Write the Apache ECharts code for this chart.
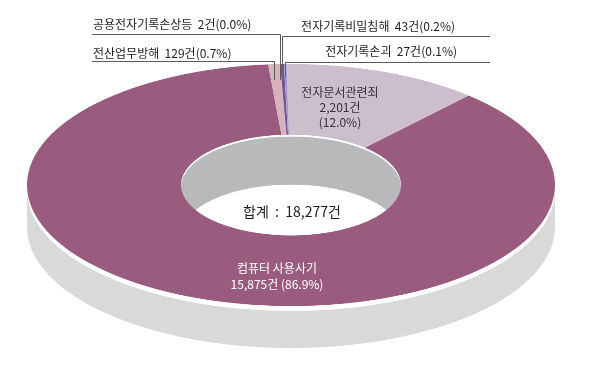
<!DOCTYPE html>
<html><head><meta charset="utf-8">
<script src="https://cdn.jsdelivr.net/npm/echarts@6/dist/echarts.min.js"></script>
<style>
html,body{margin:0;padding:0;background:#fff;overflow:hidden;width:590px;height:369px;}
#pie{position:absolute;left:0;top:0;width:590px;height:800px;transform-origin:0 0;}
#txt{position:absolute;left:0;top:0;width:590px;height:369px;}
</style></head>
<body>
<div id="pie"></div>
<div id="txt"></div>
<script>
// ---- data ----
const categories = ['전자문서관련죄', '컴퓨터 사용사기', '전산업무방해', '공용전자기록손상등', '전자기록비밀침해', '전자기록손괴'];
const counts = [2201, 15875, 129, 2, 43, 27];
const percents = ['12.0', '86.9', '0.7', '0.0', '0.2', '0.1'];
const totalLabel = '합계';
const unit = '건';

// ---- style / layout ----
const colors = ['#cdbecd', '#9a5c7e', '#d9b1bc', '#ead9de', '#6f5897', '#a995c6'];
const FONT = '"Noto Sans CJK KR", "Noto Sans", sans-serif';
const CX = 291, CYS = 185, RX = 264, RY = 121, RI = 110;
const S = RY / RX;
const CY = CYS / S;
const DEPTH = 42, GAP = 5, FLOOR = 50, RIM = 2;
const START = 91; // echarts startAngle
document.getElementById('pie').style.transform = 'scaleY(' + S + ')';

const fmt = n => n.toLocaleString('en-US');
const total = counts.reduce((a, b) => a + b, 0);

// ---- pie (squashed into an ellipse) ----
const pie = echarts.init(document.getElementById('pie'), null, {renderer: 'canvas'});
pie.setOption({
  animation: false,
  graphic: {elements: [
    {type: 'circle', silent: true, z: 1, shape: {cx: CX, cy: CY + DEPTH / S, r: RX}, style: {fill: '#d9d9d9'}},
    {type: 'rect', silent: true, z: 1, shape: {x: CX - RX, y: CY, width: 2 * RX, height: DEPTH / S}, style: {fill: '#d9d9d9'}},
    {type: 'circle', silent: true, z: 2, shape: {cx: CX, cy: CY + GAP / S, r: RX}, style: {fill: '#ffffff'}},
    {type: 'circle', silent: true, z: 3, shape: {cx: CX, cy: CY, r: RI}, style: {fill: '#ffffff'}},
    {type: 'circle', silent: true, z: 4, shape: {cx: CX, cy: CY + RIM / S, r: RI}, style: {fill: '#b8b9ba'}},
    {type: 'circle', silent: true, z: 5, shape: {cx: CX, cy: CY + FLOOR / S, r: RI}, style: {fill: '#ffffff'}}
  ]},
  series: [{
    type: 'pie', z: 10, silent: true,
    center: [CX, CY], radius: [RI, RX],
    startAngle: START, clockwise: true, minAngle: 0,
    label: {show: false}, labelLine: {show: false},
    itemStyle: {borderWidth: 0},
    data: categories.map((c, i) => ({name: c, value: counts[i], itemStyle: {color: colors[i]}}))
  }]
});

// ---- text overlay ----
let acc = 90 - START;
const mids = counts.map(v => { const a = v / total * 360; const m = acc + a / 2; acc += a; return m; });
const topPt = i => {
  const t = mids[i] * Math.PI / 180;
  return [CX + RX * Math.sin(t), CYS - RY * Math.cos(t)];
};
const callout = i => categories[i] + '  ' + fmt(counts[i]) + unit + '(' + percents[i] + '%)';
const LC = '#5a5a5a';
function leader(i, fromX, yLine, drop) {
  const p = topPt(i);
  const x = Math.round(p[0]) + 0.5;
  return {type: 'polyline', silent: true, shape: {points: [[fromX, yLine + 0.5], [x, yLine + 0.5], [x, p[1] + drop]]},
    style: {stroke: LC, lineWidth: 1, fill: null}};
}
const txtStyle = (text, x, y, align, color, size, lh) => ({type: 'text', silent: true,
  style: {text: text, x: x, y: y, align: align, verticalAlign: 'middle', fill: color, fontSize: size, fontFamily: FONT, lineHeight: lh || size + 3}});

const txt = echarts.init(document.getElementById('txt'), null, {renderer: 'svg'});
txt.setOption({
  animation: false,
  graphic: {elements: [
    txtStyle(callout(3), 93, 23, 'left', '#222', 12),
    leader(3, 92, 34, 16),
    txtStyle(callout(2), 93, 52, 'left', '#222', 12),
    leader(2, 92, 61, 16),
    txtStyle(callout(4), 455, 25, 'right', '#222', 12),
    leader(4, 490, 36, 5),
    txtStyle(callout(5), 457, 50, 'right', '#222', 12),
    leader(5, 490, 62, 13),
    txtStyle(categories[0] + '\n' + fmt(counts[0]) + unit + '\n(' + percents[0] + '%)', 340, 106, 'center', '#333', 12, 15),
    txtStyle(categories[1] + '\n' + fmt(counts[1]) + unit + ' (' + percents[1] + '%)', 277, 275, 'center', '#ffffff', 12, 16),
    txtStyle(totalLabel + '  :  ' + fmt(total) + unit, 292, 211, 'center', '#222', 14)
  ]}
});
</script>
</body></html>
